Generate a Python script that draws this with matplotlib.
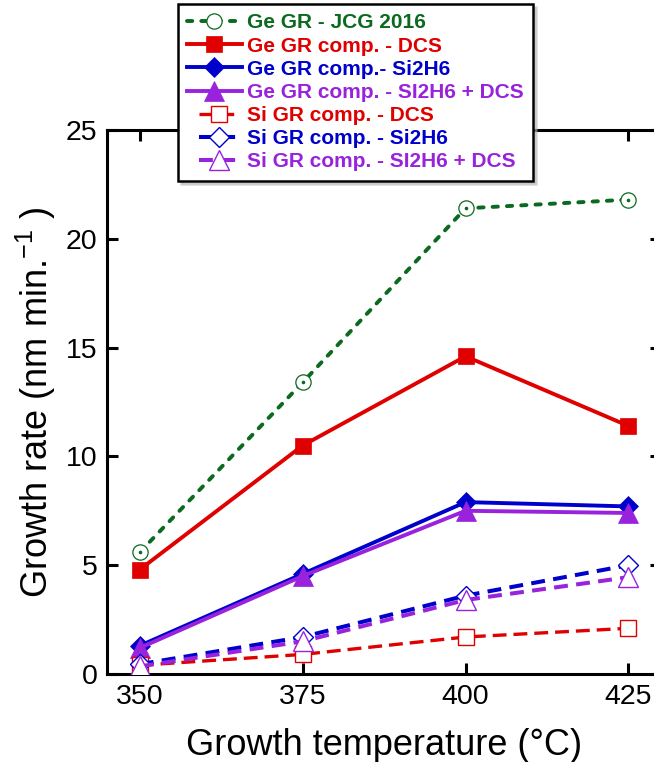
import matplotlib
matplotlib.use("Agg")
import matplotlib.pyplot as plt
from matplotlib.legend_handler import HandlerLine2D

plt.rcParams['font.family'] = ['Liberation Sans', 'DejaVu Sans']
plt.rcParams['mathtext.fontset'] = 'custom'
plt.rcParams['mathtext.rm'] = 'Liberation Sans'
plt.rcParams['mathtext.it'] = 'Liberation Sans'
plt.rcParams['lines.scale_dashes'] = False

# Growth temperature (°C)
temperature = [350, 375, 400, 425]

# Growth rates (nm/min)
ge_jcg2016 = [5.6, 13.4, 21.4, 21.8]
ge_dcs = [4.8, 10.5, 14.6, 11.4]
ge_si2h6 = [1.3, 4.6, 7.9, 7.7]
ge_si2h6_dcs = [1.2, 4.5, 7.5, 7.4]
si_dcs = [0.4, 0.9, 1.7, 2.1]
si_si2h6 = [0.45, 1.7, 3.6, 5.0]
si_si2h6_dcs = [0.35, 1.5, 3.4, 4.45]

labels = [
    'Ge GR - JCG 2016',
    'Ge GR comp. - DCS',
    'Ge GR comp.- Si2H6',
    'Ge GR comp. - SI2H6 + DCS',
    'Si GR comp. - DCS',
    'Si GR comp. - Si2H6',
    'Si GR comp. - SI2H6 + DCS',
]

GREEN = '#0b6a1f'
RED = '#e00000'
BLUE = '#0000cc'
PURPLE = '#9922dd'

fig = plt.figure(figsize=(6.54, 7.62), dpi=100)
ax = fig.add_axes([0.164, 0.1155, 1.0107 - 0.164, 0.8294 - 0.1155])

h_green, = ax.plot(temperature, ge_jcg2016, color=GREEN, lw=2.8,
                   dashes=(3.8, 6.5), dash_capstyle='round',
                   marker='o', ms=11, mfc='white', mec=GREEN, mew=0.9,
                   label=labels[0], zorder=3)
ax.plot(temperature, ge_jcg2016, ls='none', marker='o', ms=1.6,
        color=GREEN, zorder=4)

h_red, = ax.plot(temperature, ge_dcs, color=RED, lw=2.8,
                 marker='s', ms=11.5, mfc=RED, mec=RED, mew=0.5,
                 label=labels[1], zorder=3)
h_blue, = ax.plot(temperature, ge_si2h6, color=BLUE, lw=2.8,
                  marker='D', ms=10.5, mfc=BLUE, mec=BLUE, mew=0.5,
                  label=labels[2], zorder=3)
h_purple, = ax.plot(temperature, ge_si2h6_dcs, color=PURPLE, lw=2.8,
                    marker='^', ms=15, mfc=PURPLE, mec=PURPLE, mew=0.5,
                    label=labels[3], zorder=3)

h_sred, = ax.plot(temperature, si_dcs, color=RED, lw=2.4,
                  dashes=(10, 5),
                  marker='s', ms=11, mfc='white', mec=RED, mew=1.0,
                  label=labels[4], zorder=3)
h_sblue, = ax.plot(temperature, si_si2h6, color=BLUE, lw=2.9,
                   dashes=(10, 6),
                   marker='D', ms=10, mfc='white', mec=BLUE, mew=1.0,
                   label=labels[5], zorder=3)
h_spurple, = ax.plot(temperature, si_si2h6_dcs, color=PURPLE, lw=2.9,
                     dashes=(10, 6),
                     marker='^', ms=14.5, mfc='white', mec=PURPLE, mew=1.0,
                     label=labels[6], zorder=3)

ax.set_xlim(345, 430)
ax.set_ylim(0, 25)
ax.set_xticks(temperature)
ax.set_yticks([0, 5, 10, 15, 20, 25])

for side in ax.spines.values():
    side.set_linewidth(2.2)
ax.tick_params(axis='both', which='major', direction='in', length=8,
               width=2.2, top=True, right=True, labelsize=20.5, pad=7)

ax.set_xlabel('Growth temperature (°C)', fontsize=26, labelpad=13)
ax.set_ylabel('Growth rate (nm min.$^{\\mathregular{-1}}$ )', fontsize=26,
              labelpad=6)


class ShortHandle(HandlerLine2D):
    """Line handle drawn over a shorter span at the right of the handle box."""

    def __init__(self, frac=0.75, **kw):
        super().__init__(**kw)
        self.frac = frac

    def create_artists(self, legend, orig_handle, xdescent, ydescent,
                       width, height, fontsize, trans):
        shrink = width * (1 - self.frac)
        return super().create_artists(legend, orig_handle,
                                      xdescent - shrink * 0.85, ydescent,
                                      width - shrink, height, fontsize, trans)


handles = [h_green, h_red, h_blue, h_purple, h_sred, h_sblue, h_spurple]
leg = fig.legend(handles, labels,
                 loc='upper left', bbox_to_anchor=(178 / 654, 1 - 4 / 762),
                 bbox_transform=fig.transFigure,
                 prop={'weight': 'bold', 'size': 15},
                 handlelength=2.6, handletextpad=0.25, labelspacing=0.2,
                 borderpad=0.45, borderaxespad=0.0,
                 fancybox=False, shadow={'color': '#b0b0b0', 'ox': 2, 'oy': -2},
                 framealpha=1, numpoints=1,
                 handler_map={h_sred: ShortHandle(0.74),
                              h_sblue: ShortHandle(0.74),
                              h_spurple: ShortHandle(0.74)})
leg.get_frame().set_edgecolor('black')
leg.get_frame().set_linewidth(1.8)
for text, h in zip(leg.get_texts(), handles):
    text.set_color(h.get_color())

fig.savefig('out.png', dpi=100)
